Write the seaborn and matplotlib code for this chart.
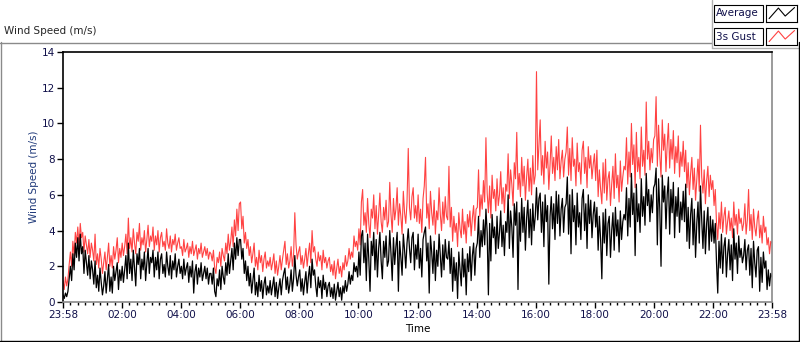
import matplotlib.pyplot as plt
import pandas as pd
import seaborn as sns
from matplotlib.lines import Line2D
from matplotlib.patches import Rectangle
from matplotlib.ticker import MultipleLocator

# 2.5-minute samples, one row per hour (23:58 -> 23:58)
gust = [
    1.2, 0.7, 1.4, 0.9, 1.3, 2.1, 2.8, 2.0, 3.4, 2.6, 3.9, 3.3, 4.2, 3.1, 4.4, 3.6, 3.9, 2.8, 3.7, 3.2, 2.7, 3.5, 2.5, 3.3,
    2.9, 2.3, 3.8, 2.1, 2.7, 1.9, 3.0, 2.4, 1.6, 2.2, 2.8, 1.8, 2.5, 3.3, 2.0, 2.6, 1.9, 3.1, 2.4, 2.9, 3.6, 2.2, 3.0, 2.5,
    3.3, 2.6, 3.1, 3.8, 2.7, 4.7, 3.0, 3.6, 2.8, 4.1, 3.3, 2.7, 3.9, 3.4, 4.4, 2.9, 3.6, 3.2, 4.0, 2.8, 3.5, 4.3, 3.1, 3.7,
    3.4, 4.2, 2.9, 3.7, 3.2, 4.0, 2.8, 3.6, 3.9, 3.1, 3.4, 2.9, 4.1, 3.3, 3.0, 3.7, 2.8, 3.5, 3.2, 3.8, 2.9, 3.3, 3.6, 3.0,
    3.1, 2.6, 3.5, 2.8, 3.0, 3.3, 2.5, 3.1, 2.7, 3.4, 2.6, 2.9, 3.2, 2.4, 3.0, 2.7, 3.3, 2.5, 2.8, 3.1, 2.6, 3.0, 2.4, 2.8,
    2.7, 2.3, 2.9, 1.9, 1.6, 2.5, 2.2, 2.8, 2.0, 3.0, 2.6, 2.3, 3.3, 2.7, 3.8, 2.9, 3.4, 4.2, 3.1, 4.6, 3.7, 5.2, 4.0, 5.5,
    5.6, 4.1, 4.8, 3.3, 3.9, 3.0, 3.5, 2.6, 3.1, 2.2, 2.7, 3.3, 2.0, 2.5, 1.8, 2.9, 2.2, 2.6, 1.7, 2.4, 2.8, 1.9, 2.3, 2.0,
    2.5, 1.8, 2.2, 2.7, 1.6, 2.3, 1.5, 2.0, 2.6, 1.8, 2.4, 2.9, 3.4, 2.1, 2.7, 1.9, 2.3, 3.1, 2.0, 2.6, 5.0, 3.2, 2.4, 2.8,
    3.1, 2.1, 2.6, 1.9, 2.4, 3.0, 2.0, 2.7, 3.3, 2.2, 4.0, 2.8, 3.1, 2.4, 2.0, 2.8, 2.3, 2.6, 1.8, 2.9, 2.2, 2.5, 1.9, 2.3,
    2.5, 1.7, 2.1, 1.5, 2.3, 1.3, 1.9, 2.4, 1.6, 2.0, 1.4, 2.2, 1.8, 2.6, 2.0, 2.3, 3.0, 2.4, 2.8, 2.5, 3.7, 3.1, 3.4, 2.9,
    4.1, 3.2, 5.6, 6.3, 4.3, 5.0, 3.9, 5.8, 4.4, 3.6, 5.2, 4.7, 6.0, 4.1, 5.4, 3.8, 4.9, 6.1, 4.5, 3.9, 5.3, 4.6, 5.7, 4.2,
    4.5, 6.7, 4.9, 3.9, 5.8, 4.6, 5.2, 6.4, 4.3, 5.5, 4.8, 3.8, 6.2, 5.0, 4.4, 5.6, 8.6, 5.3, 4.6, 5.9, 6.4, 4.7, 5.4, 4.5,
    6.0, 4.4, 5.2, 3.9, 5.8, 6.5, 8.1, 4.7, 5.5, 4.1, 6.2, 5.0, 4.3, 5.7, 3.8, 5.1, 4.6, 6.4, 4.9, 4.0, 5.6, 4.4, 5.9, 4.8,
    4.6, 7.6, 4.2, 5.3, 3.4, 4.8, 3.9, 4.4, 3.1, 5.0, 4.1, 3.6, 5.2, 3.8, 4.5, 3.3, 4.9, 4.2, 5.1, 3.7, 4.7, 5.4, 4.0, 5.2,
    5.3, 7.4, 4.8, 6.0, 5.2, 6.8, 5.6, 9.2, 6.1, 5.0, 6.5, 4.7, 7.1, 5.8, 6.3, 5.1, 6.9, 5.4, 6.0, 7.3, 5.5, 6.4, 5.0, 6.6,
    6.2, 8.3, 5.8, 7.4, 6.6, 5.4, 7.8, 6.9, 9.5, 6.3, 7.2, 5.9, 8.1, 6.5, 7.6, 5.7, 7.0, 8.0, 6.2, 7.5, 6.0, 8.2, 6.6, 7.1,
    12.9, 7.4, 8.8, 10.2, 7.1, 8.2, 6.6, 9.0, 7.5, 8.4, 6.3, 7.7, 9.3, 7.2, 8.1, 6.8, 8.7, 7.4, 9.1, 6.9, 7.9, 8.5, 7.0, 8.0,
    8.4, 9.8, 7.1, 8.6, 6.8, 9.2, 7.6, 8.0, 6.5, 8.9, 7.3, 7.8, 6.6, 8.5, 9.0, 7.2, 8.1, 6.4, 8.7, 7.5, 8.2, 6.9, 7.7, 8.3,
    6.8, 8.5, 5.9, 7.4, 6.3, 5.5, 7.8, 6.1, 8.0, 5.7, 6.9, 7.3, 5.4, 6.6, 7.6, 5.8, 8.3, 6.4, 7.1, 5.6, 7.9, 6.2, 7.0, 7.6,
    7.4, 9.2, 6.6, 8.4, 7.0, 10.0, 7.7, 8.8, 6.4, 9.5, 7.3, 8.1, 6.9, 9.8, 7.6, 8.5, 7.1, 11.2, 8.0, 9.0, 7.4, 8.6, 7.8, 9.1,
    9.3, 11.5, 7.6, 9.9, 8.2, 7.0, 10.2, 8.5, 9.4, 7.3, 8.8, 10.0, 7.5, 9.1, 8.0, 9.6, 7.2, 8.7, 7.8, 9.3, 7.0, 8.4, 7.6, 9.0,
    7.3, 8.5, 6.4, 7.8, 6.0, 7.2, 8.1, 6.3, 7.5, 5.7, 6.9, 8.0, 6.2, 9.9, 7.0, 6.1, 7.4, 5.5, 6.8, 7.6, 5.9, 7.1, 6.3, 6.8,
    5.4, 6.3, 4.4, 3.5, 5.0, 4.1, 5.6, 3.9, 4.8, 5.3, 3.8, 4.5, 5.1, 4.0, 4.7, 3.6, 5.6, 4.3, 4.9, 3.8, 5.2, 4.4, 4.7, 4.0,
    4.4, 5.5, 3.8, 4.6, 6.3, 4.0, 4.9, 3.5, 5.2, 4.2, 3.7, 4.6, 5.1, 3.6, 4.3, 3.3, 4.8, 3.9, 4.2, 3.2, 3.6, 2.7, 3.4, 3.3,
]
average = [
    0.4, 0.2, 0.5, 0.3, 0.6, 1.3, 2.0, 1.2, 2.7, 1.8, 3.3, 2.5, 3.6, 2.3, 3.8, 2.7, 3.1, 1.6, 2.9, 2.2, 1.5, 2.6, 1.3, 2.3,
    1.8, 1.0, 2.3, 0.8, 1.5, 0.6, 1.9, 1.1, 0.4, 0.9, 1.7, 0.5, 1.3, 2.1, 0.6, 1.4, 0.5, 2.0, 1.2, 1.7, 2.2, 0.7, 1.8, 1.2,
    2.0, 1.1, 1.8, 2.6, 1.3, 3.3, 1.6, 2.4, 1.2, 2.9, 1.9, 0.9, 2.7, 2.1, 3.0, 1.3, 2.4, 1.8, 2.8, 1.2, 2.2, 3.0, 1.6, 2.5,
    2.2, 2.9, 1.4, 2.5, 1.8, 2.8, 1.3, 2.4, 2.7, 1.6, 2.1, 1.4, 2.8, 2.0, 1.5, 2.6, 1.3, 2.3, 1.8, 2.7, 1.4, 2.0, 2.4, 1.6,
    2.0, 1.3, 2.4, 1.5, 1.9, 2.2, 1.1, 2.0, 1.4, 2.3, 0.5, 1.7, 2.1, 1.0, 1.9, 1.4, 2.2, 1.2, 1.6, 2.0, 1.3, 1.9, 1.0, 1.6,
    1.6, 1.0, 1.9, 0.6, 0.3, 1.3, 0.9, 1.8, 0.7, 2.0, 1.4, 1.0, 2.2, 1.5, 2.7, 1.6, 2.3, 3.0, 1.8, 3.3, 2.4, 3.6, 2.6, 3.5,
    3.5, 2.4, 3.0, 1.6, 2.3, 1.2, 2.0, 0.9, 1.6, 0.5, 1.2, 1.9, 0.4, 1.1, 0.3, 1.5, 0.6, 1.2, 0.2, 1.0, 1.4, 0.4, 0.9, 0.5,
    1.2, 0.4, 0.9, 1.4, 0.3, 1.1, 0.2, 0.8, 1.3, 0.4, 1.2, 1.6, 1.9, 0.7, 1.4, 0.5, 1.0, 1.8, 0.6, 1.3, 2.6, 1.5, 0.9, 1.4,
    1.8, 0.6, 1.3, 0.4, 1.1, 1.7, 0.5, 1.4, 2.0, 0.8, 2.4, 1.5, 1.8, 0.9, 0.3, 1.4, 0.8, 1.2, 0.2, 1.5, 0.7, 1.1, 0.3, 0.9,
    1.1, 0.3, 0.8, 0.2, 1.0, 0.1, 0.6, 1.1, 0.3, 0.8, 0.1, 0.9, 0.5, 1.2, 0.6, 1.0, 1.7, 1.0, 1.5, 1.2, 2.2, 1.7, 2.0, 1.4,
    2.8, 1.5, 3.7, 4.0, 2.2, 3.3, 1.2, 3.8, 2.4, 0.6, 3.4, 2.6, 3.9, 1.8, 3.5, 1.4, 3.0, 3.9, 2.3, 1.3, 3.4, 2.5, 3.7, 2.0,
    2.3, 4.0, 2.7, 1.2, 3.6, 2.1, 3.1, 3.9, 0.6, 3.4, 2.5, 1.5, 3.8, 2.9, 1.9, 3.3, 4.1, 3.0, 2.2, 3.6, 3.9, 1.8, 3.2, 2.4,
    3.8, 1.9, 3.0, 1.4, 3.5, 3.9, 4.2, 2.3, 3.3, 0.5, 3.7, 2.8, 1.6, 3.4, 1.2, 2.9, 2.0, 3.8, 2.6, 1.4, 3.2, 1.8, 3.5, 2.5,
    2.4, 3.4, 1.6, 3.0, 0.6, 2.5, 1.2, 2.2, 0.2, 2.8, 1.8, 0.9, 3.0, 1.4, 2.4, 0.4, 2.7, 1.7, 3.1, 1.2, 2.6, 3.3, 1.5, 3.0,
    3.3, 4.8, 2.5, 4.0, 3.1, 4.6, 3.2, 5.2, 3.9, 0.4, 4.4, 2.3, 4.9, 3.6, 4.2, 2.7, 4.8, 3.0, 3.9, 5.1, 3.1, 4.3, 2.6, 4.5,
    3.9, 6.0, 3.0, 5.1, 4.2, 2.5, 5.5, 4.3, 5.6, 0.7, 5.0, 3.4, 5.8, 3.9, 5.3, 2.9, 4.7, 5.7, 3.6, 5.2, 3.2, 5.5, 4.0, 4.8,
    6.4, 4.6, 5.8, 6.1, 3.9, 5.6, 3.1, 6.0, 4.5, 5.4, 1.0, 4.8, 5.9, 4.1, 5.5, 3.5, 6.2, 4.4, 6.0, 3.7, 5.2, 5.8, 3.9, 5.3,
    5.5, 7.0, 3.8, 6.0, 2.7, 6.3, 4.5, 5.4, 3.2, 6.1, 4.2, 5.0, 3.5, 5.8, 6.3, 4.0, 5.5, 3.0, 6.0, 4.4, 5.7, 3.6, 4.9, 5.6,
    4.2, 5.3, 2.9, 4.8, 3.5, 1.3, 5.0, 3.3, 5.2, 2.6, 4.4, 4.8, 2.5, 4.0, 5.0, 2.9, 5.3, 3.7, 4.6, 2.8, 5.1, 3.5, 4.5, 4.9,
    4.6, 6.4, 3.7, 5.8, 4.2, 7.2, 4.9, 6.1, 2.6, 6.6, 4.5, 5.5, 3.9, 6.9, 4.8, 5.9, 4.3, 7.2, 5.4, 6.3, 4.5, 6.0, 5.0, 6.4,
    6.6, 7.5, 3.2, 6.9, 5.2, 2.0, 7.1, 5.6, 6.5, 4.1, 6.0, 7.0, 3.8, 6.3, 5.0, 6.7, 3.6, 5.9, 4.8, 6.4, 3.9, 5.6, 4.6, 6.2,
    4.5, 6.6, 3.4, 5.3, 3.0, 4.9, 5.8, 3.2, 5.2, 2.5, 4.4, 5.6, 3.3, 6.5, 4.6, 3.0, 5.1, 2.7, 4.4, 5.3, 2.9, 4.8, 3.4, 4.6,
    3.3, 4.4, 2.2, 0.5, 3.4, 1.9, 3.8, 1.6, 3.1, 3.6, 1.4, 2.7, 3.5, 1.8, 3.2, 1.2, 4.1, 2.4, 3.3, 1.6, 3.7, 2.5, 3.0, 2.2,
    2.6, 3.5, 1.8, 2.9, 3.2, 1.5, 3.0, 0.8, 3.4, 2.2, 1.4, 2.9, 3.1, 0.6, 2.5, 1.1, 2.8, 1.9, 2.3, 0.7, 1.8, 0.9, 1.6, 1.4,
]
time_labels = ['23:58', '02:00', '04:00', '06:00', '08:00', '10:00', '12:00',
               '14:00', '16:00', '18:00', '20:00', '22:00', '23:58']
legend_names = ['Average', '3s Gust']

n = len(gust)
df = pd.DataFrame({'hours': [24 * i / (n - 1) for i in range(n)],
                   'gust': gust, 'average': average})

sns.set_style('white')
plt.rcParams['font.family'] = ['DejaVu Sans']

W, H = 800, 342
fig = plt.figure(figsize=(8, 3.42), dpi=100)

def fx(x):
    return x / W

def fy(y):
    return 1 - y / H

ax = fig.add_axes([fx(63), fy(302), 709 / W, 250 / H])
sns.lineplot(data=df, x='hours', y='gust', color='#ff4242', lw=0.8, ax=ax)
sns.lineplot(data=df, x='hours', y='average', color='black', lw=0.9, ax=ax)

ax.set_xlim(0, 24)
ax.set_ylim(0, 14)
ax.set_xticks(range(0, 25, 2), time_labels)
ax.set_yticks(range(0, 15, 2))
ax.xaxis.set_minor_locator(MultipleLocator(0.25))
ax.tick_params(axis='both', which='major', direction='out', length=4,
               width=1, labelsize=7.5, labelcolor='#10104a', color='black',
               pad=2, bottom=True, left=True)
ax.tick_params(axis='x', which='minor', direction='out', length=2,
               width=1, color='black', bottom=True)
ax.set_xlabel('Time', fontsize=7.5, color='black', labelpad=3)
ax.set_ylabel('Wind Speed (m/s)', fontsize=7.5, color='#203a7a', labelpad=2)
ax.spines['left'].set_color('black')
ax.spines['top'].set_color('black')
ax.spines['right'].set_color('#8a8a8a')
ax.spines['bottom'].set_color('#8a8a8a')
for s in ax.spines.values():
    s.set_linewidth(1.2)

# graph title and outer frame
fig.text(fx(4), fy(31), 'Wind Speed (m/s)', fontsize=7.5, va='center')
frame = [((0.5, 0.5), (42, 341), '#8a8a8a'),
         ((0, 712), (42.5, 42.5), '#8a8a8a'),
         ((712, 712), (0, 48), '#b0b0b0'),
         ((712, 798), (48, 48), '#b0b0b0'),
         ((798.5, 798.5), (42, 341), 'black'),
         ((0, 799), (340.5, 340.5), 'black')]
for xs, ys, c in frame:
    fig.add_artist(Line2D([fx(v) for v in xs], [fy(v) for v in ys],
                          color=c, lw=1))

# legend boxes
for i, (name, col) in enumerate(zip(legend_names, ['black', '#ff4242'])):
    top = 5 + i * 23
    fig.add_artist(Rectangle((fx(714), fy(top + 17)), 49 / W, 17 / H,
                             fill=False, ec='black', lw=0.8))
    fig.text(fx(716), fy(top + 8.5), name, fontsize=7.5, color='#10104a',
             va='center')
    sw = fig.add_axes([fx(766), fy(top + 17), 31 / W, 17 / H])
    sw.plot([0.1, 0.4, 0.62, 0.92], [0.2, 0.82, 0.35, 0.85], color=col, lw=0.8)
    sw.set_xlim(0, 1)
    sw.set_ylim(0, 1)
    sw.set_xticks([])
    sw.set_yticks([])
    for s in sw.spines.values():
        s.set_color('black')
        s.set_linewidth(0.8)

fig.savefig('out.png', dpi=100)
